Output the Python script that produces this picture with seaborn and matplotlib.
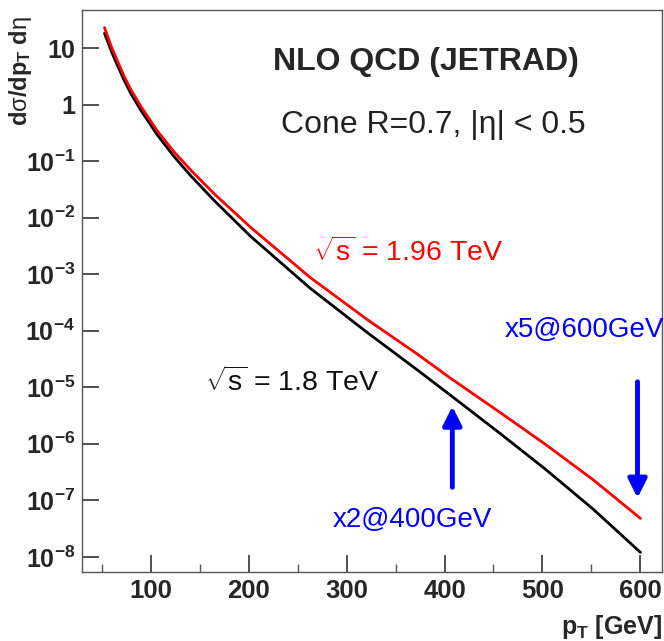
import numpy as np
import pandas as pd
import seaborn as sns
import matplotlib.pyplot as plt
from matplotlib.ticker import MultipleLocator, LogLocator, NullFormatter

# values (pT in GeV, cross section on a log scale)
pt_18 = [53, 60, 66, 73, 80, 90, 107, 124, 141, 165, 202, 263, 321, 372, 406, 457, 503, 552, 600]
xs_18 = [18.2, 8.71, 5.0, 2.69, 1.55, 0.794, 0.288, 0.120, 5.50e-2, 2.00e-2, 4.68e-3, 5.62e-4,
         9.33e-5, 2.04e-5, 7.24e-6, 1.51e-6, 3.55e-7, 6.92e-8, 1.20e-8]
pt_196 = [53, 60, 66, 73, 80, 90, 107, 124, 141, 165, 202, 263, 321, 372, 406, 457, 503, 552, 600]
xs_196 = [22.9, 10.5, 6.0, 3.16, 1.82, 0.933, 0.339, 0.145, 6.92e-2, 2.63e-2, 6.76e-3, 8.71e-4,
          1.58e-4, 3.89e-5, 1.45e-5, 3.55e-6, 9.77e-7, 2.29e-7, 4.79e-8]

series_labels = ["1.8", "1.96"]
series_colors = ["black", "red"]

y_major = [1e-8, 1e-7, 1e-6, 1e-5, 1e-4, 1e-3, 1e-2, 1e-1, 1, 10]
y_labels = [r"$\mathbf{10^{-8}}$", r"$\mathbf{10^{-7}}$", r"$\mathbf{10^{-6}}$",
            r"$\mathbf{10^{-5}}$", r"$\mathbf{10^{-4}}$", r"$\mathbf{10^{-3}}$",
            r"$\mathbf{10^{-2}}$", r"$\mathbf{10^{-1}}$", "1", "10"]
x_major = [100, 200, 300, 400, 500, 600]

# arrows: x position, tail and tip values
arrow_x = [408, 597]
arrow_tail = [1.7e-7, 1.25e-5]
arrow_tip = [4.6e-6, 1.1e-7]

df = pd.concat([
    pd.DataFrame({"pt": pt_18, "xs": xs_18, "sqrt_s": series_labels[0]}),
    pd.DataFrame({"pt": pt_196, "xs": xs_196, "sqrt_s": series_labels[1]}),
])

sns.set_style("ticks")
plt.rcParams["font.family"] = ["Liberation Sans", "DejaVu Sans"]
plt.rcParams["mathtext.fontset"] = "custom"
plt.rcParams["mathtext.rm"] = "Liberation Sans"
plt.rcParams["mathtext.it"] = "Liberation Sans"
plt.rcParams["mathtext.bf"] = "Liberation Sans:bold"

fig = plt.figure(figsize=(6.64, 6.41), dpi=100)
ax = fig.add_axes([82 / 664, 69 / 641, 580 / 664, 562 / 641])

sns.lineplot(data=df, x="pt", y="xs", hue="sqrt_s", palette=dict(zip(series_labels, series_colors)),
             linewidth=2.0, legend=False, ax=ax, sort=False)

ax.set_yscale("log")
ax.set_xlim(30, 622)
ax.set_ylim(5.4e-9, 47)

ax.set_xticks(x_major)
ax.set_xticklabels([str(v) for v in x_major], fontsize=18.5, fontweight="bold")
ax.xaxis.set_minor_locator(MultipleLocator(50))
ax.set_yticks(y_major)
ax.set_yticklabels(y_labels, fontsize=18, fontweight="bold")
ax.yaxis.set_minor_locator(LogLocator(base=10, subs=np.arange(2, 10)))
ax.yaxis.set_minor_formatter(NullFormatter())

ax.tick_params(which="major", direction="in", length=12, width=1.2, color="#333333", pad=5)
ax.tick_params(which="minor", direction="in", length=6, width=1.0, color="#555555")
ax.tick_params(top=False, right=False, which="both")
for sp in ax.spines.values():
    sp.set_color("#555555")
    sp.set_linewidth(1.0)

ax.set_xlabel(r"p$_\mathbf{T}$ [GeV]", fontsize=18, fontweight="bold", loc="right", labelpad=7)
ax.set_ylabel(r"d$\sigma$/dp$_\mathbf{T}$ d$\eta$", fontsize=17, fontweight="bold", loc="top")
ax.yaxis.set_label_coords(-0.082, 0.99)

ax.text(0.593, 0.907, "NLO QCD (JETRAD)", transform=ax.transAxes, fontsize=23, fontweight="bold",
        ha="center", va="center")
ax.text(0.605, 0.795, "Cone R=0.7, |\u03b7| < 0.5", transform=ax.transAxes, fontsize=23,
        ha="center", va="center", color="#222222")
ax.text(0.398, 0.569, r"$\sqrt{\mathrm{s}}$ = 1.96 TeV", transform=ax.transAxes, fontsize=20.5,
        ha="left", va="center", color="red")
ax.text(0.212, 0.338, r"$\sqrt{\mathrm{s}}$ = 1.8 TeV", transform=ax.transAxes, fontsize=20.5,
        ha="left", va="center", color="#111111")
ax.text(0.729, 0.431, "x5@600GeV", transform=ax.transAxes, fontsize=20,
        ha="left", va="center", color="blue")
ax.text(0.433, 0.0925, "x2@400GeV", transform=ax.transAxes, fontsize=20,
        ha="left", va="center", color="blue")

for x, y0, y1 in zip(arrow_x, arrow_tail, arrow_tip):
    ax.annotate("", xy=(x, y1), xytext=(x, y0),
                arrowprops=dict(arrowstyle="-|>", color="blue", lw=3.5, mutation_scale=28,
                                shrinkA=0, shrinkB=0))

fig.savefig("out.png", dpi=100)
